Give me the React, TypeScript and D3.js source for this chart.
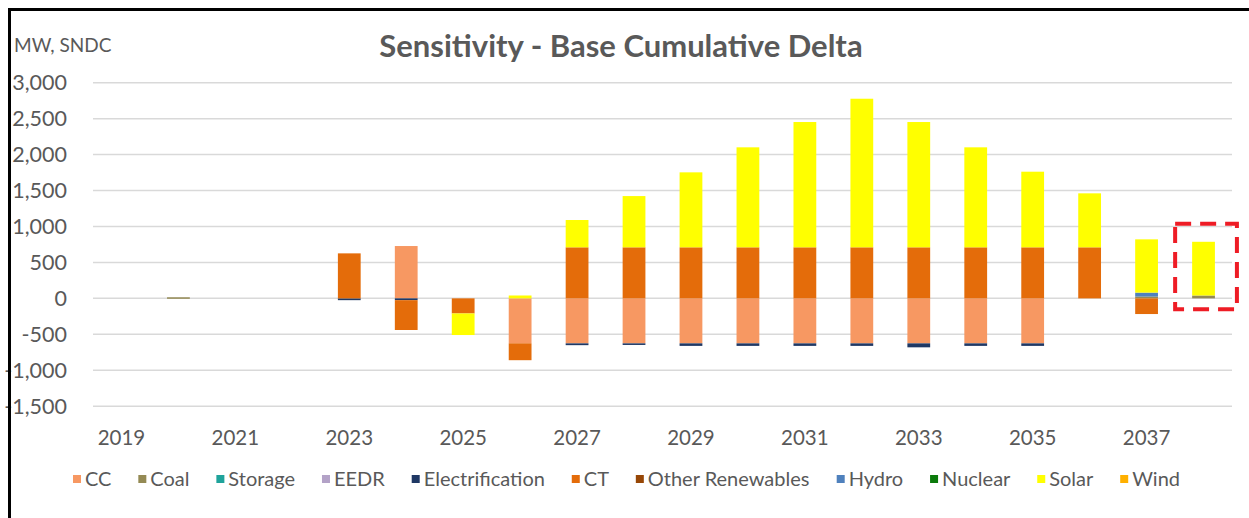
import React, { useMemo } from "react";
import * as d3 from "d3";

// Cumulative capacity delta by resource type, MW (SNDC), 2019–2038
const years = d3.range(2019, 2039);
const seriesNames = [
  "CC", "Coal", "Storage", "EEDR", "Electrification", "CT",
  "Other Renewables", "Hydro", "Nuclear", "Solar", "Wind",
];
const seriesColors = [
  "#F79862", "#948A54", "#1FA39B", "#B3A2C7", "#1F3864", "#E46C0A",
  "#974706", "#4F81BD", "#0B7A0B", "#FFFF00", "#FFB000",
];

const cc = [0, 0, 0, 0, 0, 728, 0, -625, -626, -626, -626, -626, -626, -626, -626, -626, -626, 0, 0, 0];
const coal = [0, 15, 0, 0, 0, 0, 0, 0, 0, 0, 0, 0, 0, 0, 0, 0, 0, 0, 25, 40];
const storage = [0, 0, 0, 0, 0, 0, 0, 0, 0, 0, 0, 0, 0, 0, 0, 0, 0, 0, 0, 0];
const eedr = [0, 0, 0, 0, 0, 0, 0, 0, 0, 0, 0, 0, 0, 0, 0, 0, 0, 0, 0, 0];
const electrification = [0, 0, 0, 0, -25, -25, 0, 0, -25, -22, -35, -35, -35, -35, -55, -35, -35, 0, 0, 0];
const ct = [0, 0, 0, 0, 626, -415, -210, -235, 710, 710, 710, 710, 710, 710, 710, 710, 710, 710, -218, 0];
const otherRenewables = [0, 0, 0, 0, 0, 0, 0, 0, 0, 0, 0, 0, 0, 0, 0, 0, 0, 0, 0, 0];
const hydro = [0, 0, 0, 0, 0, 0, 0, 0, 0, 0, 0, 0, 0, 0, 0, 0, 0, 0, 55, 0];
const nuclear = [0, 0, 0, 0, 0, 0, 0, 0, 0, 0, 0, 0, 0, 0, 0, 0, 0, 0, 0, 0];
const solar = [0, 0, 0, 0, 0, 0, -300, 40, 380, 713, 1043, 1391, 1743, 2067, 1743, 1391, 1052, 751, 741, 747];
const wind = [0, 0, 0, 0, 0, 0, 0, 0, 0, 0, 0, 0, 0, 0, 0, 0, 0, 0, 0, 0];

const seriesValues = [
  cc, coal, storage, eedr, electrification, ct,
  otherRenewables, hydro, nuclear, solar, wind,
];

const yTicks = [-1500, -1000, -500, 0, 500, 1000, 1500, 2000, 2500, 3000];
const xTickYears = [2019, 2021, 2023, 2025, 2027, 2029, 2031, 2033, 2035, 2037];
const highlightYear = 2038;

const title = "Sensitivity - Base Cumulative Delta";
const unitLabel = "MW, SNDC";

const W = 1249;
const H = 518;
const FONT = "Lato, 'Open Sans', sans-serif";
const TEXT = "#595959";

const fmt = d3.formatLocale({
  decimal: ".",
  thousands: ",",
  grouping: [3],
  currency: ["$", ""],
  minus: "-",
}).format(",");

function measure(text: string, size: number, weight = "normal") {
  const c = document.createElement("canvas").getContext("2d");
  if (!c) return text.length * size * 0.5;
  c.font = `${weight} ${size}px Lato`;
  return c.measureText(text).width;
}

export default function App() {
  const plot = { left: 93, right: 1232, top: 82.7, bottom: 406.2 };

  const x = d3
    .scaleBand<number>()
    .domain(years)
    .range([plot.left, plot.right])
    .paddingInner(0.6)
    .paddingOuter(0.3);

  const y = d3.scaleLinear().domain([-1500, 3000]).range([plot.bottom, plot.top]);

  const rows = years.map((yr, i) => {
    const r: Record<string, number> = { year: yr };
    seriesNames.forEach((s, k) => (r[s] = seriesValues[k][i]));
    return r;
  });

  const stacked = d3
    .stack<Record<string, number>>()
    .keys(seriesNames)
    .offset(d3.stackOffsetDiverging)(rows);

  const legendFont = 20;
  const legend = useMemo(() => {
    const sw = 8;
    const gap = 4;
    const widths = seriesNames.map((s) => sw + gap + measure(s, legendFont));
    const start = 73;
    const end = 1180;
    const total = d3.sum(widths);
    const spacing = (end - start - total) / (seriesNames.length - 1);
    let cx = start;
    return seriesNames.map((s, i) => {
      const item = { name: s, color: seriesColors[i], x: cx };
      cx += widths[i] + spacing;
      return item;
    });
  }, []);

  // annotation box around the final year's bar
  const hiIdx = years.indexOf(highlightYear);
  const hiTop = d3.max(stacked, (s) => s[hiIdx][1]) ?? 0;
  const bx0 = (x(highlightYear) ?? 0) - 17;
  const bx1 = (x(highlightYear) ?? 0) + x.bandwidth() + 22;
  const by0 = y(hiTop) - 18;
  const by1 = y(-150);

  return (
    <div style={{ position: "absolute", left: 0, top: 0 }}>
      <svg width={W} height={H} style={{ display: "block", background: "#fff" }} fontFamily={FONT}>
        <rect width={W} height={H} fill="#fff" />

        {/* gridlines */}
        {yTicks.map((t) => (
          <line key={t} x1={plot.left} x2={plot.right} y1={y(t)} y2={y(t)} stroke="#D9D9D9" strokeWidth={1.5} />
        ))}

        {/* stacked bars */}
        {stacked.map((s, k) => (
          <g key={s.key} fill={seriesColors[k]}>
            {s.map((d, i) => {
              const h = Math.abs(y(d[0]) - y(d[1]));
              if (h <= 0) return null;
              return (
                <rect
                  key={i}
                  x={x(years[i])}
                  width={x.bandwidth()}
                  y={Math.min(y(d[0]), y(d[1]))}
                  height={Math.max(h, 1.5)}
                />
              );
            })}
          </g>
        ))}

        {/* y tick labels */}
        {yTicks.map((t) => (
          <text key={t} x={67} y={y(t)} dy="0.36em" textAnchor="end" fontSize={21.5} fill={TEXT}>
            {fmt(t)}
          </text>
        ))}

        {/* x tick labels */}
        {xTickYears.map((yr) => (
          <text
            key={yr}
            x={(x(yr) ?? 0) + x.bandwidth() / 2}
            y={445}
            textAnchor="middle"
            fontSize={20.5}
            fill={TEXT}
          >
            {yr}
          </text>
        ))}

        {/* title & unit */}
        <text x={621} y={57} textAnchor="middle" fontSize={31} fontWeight="bold" fill={TEXT}>
          {title}
        </text>
        <text x={14} y={52} fontSize={19} fill={TEXT}>
          {unitLabel}
        </text>

        {/* legend */}
        {legend.map((l) => (
          <g key={l.name} transform={`translate(${l.x},0)`}>
            <rect x={0} y={475} width={8} height={8} fill={l.color} />
            <text x={12} y={479} dy="0.36em" fontSize={legendFont} fill={TEXT}>
              {l.name}
            </text>
          </g>
        ))}

        {/* highlight box */}
        <rect
          x={bx0}
          y={by0}
          width={bx1 - bx0}
          height={by1 - by0}
          fill="none"
          stroke="#EE1C25"
          strokeWidth={4}
          strokeDasharray="16 9"
        />

        {/* frame */}
        <line x1={8} x2={W} y1={9.5} y2={9.5} stroke="#000" strokeWidth={3} />
        <line x1={9.5} x2={9.5} y1={8} y2={H} stroke="#000" strokeWidth={3} />
      </svg>
    </div>
  );
}
